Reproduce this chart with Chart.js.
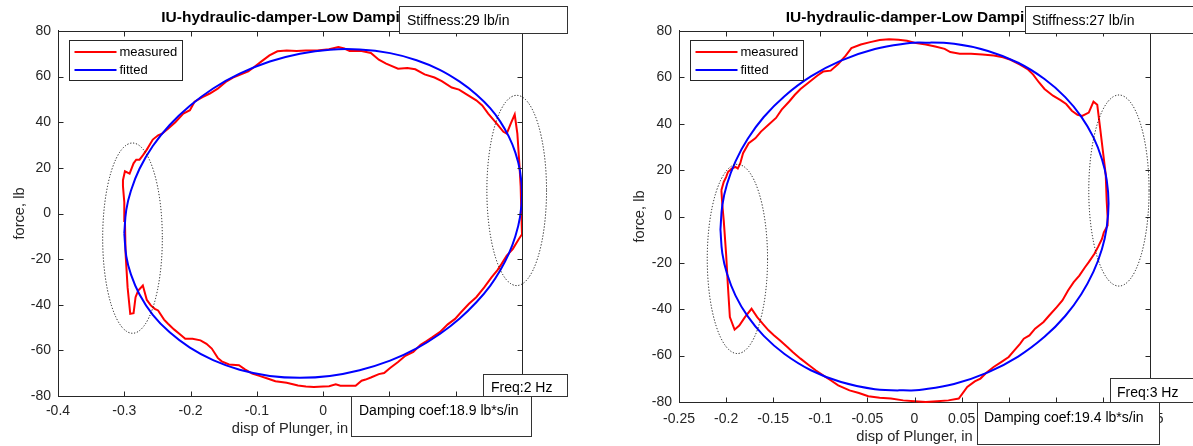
<!DOCTYPE html>
<html><head><meta charset="utf-8">
<script src="https://cdn.jsdelivr.net/npm/chart.js@4.4.1/dist/chart.umd.min.js"></script>
<style>
html,body{margin:0;padding:0;background:#fff;overflow:hidden;}
#wrap{position:relative;width:1193px;height:446px;background:#fff;}
.cv{position:absolute;top:0;}
</style></head><body>
<div id="wrap">
<canvas id="c1" class="cv" width="600" height="446" style="left:0;width:600px;height:446px"></canvas>
<canvas id="c2" class="cv" width="593" height="446" style="left:600px;width:593px;height:446px"></canvas>
</div>
<script>
// ---------- data ----------
const titleText = 'IU-hydraulic-damper-Low Damping';
const xTitle = 'disp of Plunger, in';
const yTitle = 'force, lb';
const seriesNames = ['measured', 'fitted'];

const yTickValues = [-80, -60, -40, -20, 0, 20, 40, 60, 80];
const yTickLabels = ['-80', '-60', '-40', '-20', '0', '20', '40', '60', '80'];

const leftXTickValues = [-0.4, -0.3, -0.2, -0.1, 0, 0.1, 0.2, 0.3];
const leftXTickLabels = ['-0.4', '-0.3', '-0.2', '-0.1', '0', '0.1', '0.2', '0.3'];
const rightXTickValues = [-0.25, -0.2, -0.15, -0.1, -0.05, 0, 0.05, 0.1, 0.15, 0.2, 0.25];
const rightXTickLabels = ['-0.25', '-0.2', '-0.15', '-0.1', '-0.05', '0', '0.05', '0.1', '0.15', '0.2', '0.25'];

// Left panel (2 Hz)
const leftMeasuredX = [-0.302,-0.302,-0.299,-0.292,-0.286,-0.282,-0.277,-0.272,-0.266,-0.257,-0.249,-0.243,-0.234,-0.223,-0.211,-0.201,-0.194,-0.182,-0.171,-0.159,-0.147,-0.136,-0.124,-0.113,-0.104,-0.092,-0.081,-0.069,-0.055,-0.040,-0.026,-0.009,0.009,0.023,0.032,0.040,0.058,0.072,0.084,0.095,0.113,0.127,0.139,0.153,0.168,0.179,0.194,0.205,0.217,0.231,0.240,0.249,0.260,0.272,0.277,0.283,0.289,0.293,0.296,0.298,0.299,
  0.300,0.295,0.286,0.277,0.269,0.263,0.254,0.243,0.231,0.220,0.208,0.199,0.188,0.176,0.165,0.156,0.147,0.136,0.124,0.113,0.101,0.092,0.084,0.072,0.064,0.058,0.049,0.035,0.026,0.019,0.009,0,-0.014,-0.026,-0.038,-0.055,-0.072,-0.084,-0.095,-0.107,-0.118,-0.127,-0.142,-0.153,-0.159,-0.168,-0.176,-0.185,-0.197,-0.208,-0.217,-0.225,-0.234,-0.240,-0.249,-0.254,-0.260,-0.266,-0.272,-0.279,-0.283,-0.286,-0.291,-0.295,-0.298,-0.299,-0.300,-0.302];
const leftMeasuredY = [12,14.6,18.5,17.5,22,23.6,23.6,25.5,28,32.4,34.3,35,37.2,40,43.8,45.3,49,51,52.6,54.7,57.7,59.6,61,62.3,64.2,66.9,69.3,71.1,71.5,71.2,71.4,71.5,72,73,72.3,71.2,71.2,70.4,67.4,65.7,63.5,63.8,63.2,61,59.6,58,55.2,54.3,52.1,49.6,47.4,43.8,40.1,35.8,35,39.4,43.4,35,21.9,11.7,0,
  -9.1,-11.3,-15.6,-18.5,-22.2,-24.8,-28,-32.4,-36.7,-39.6,-43.3,-46.2,-48.6,-52,-54.2,-55.9,-57.5,-60.7,-62.4,-65.1,-67.7,-69.9,-70.4,-71.9,-72.8,-73.3,-75.5,-75.5,-75.5,-74.9,-75.7,-75.8,-76,-75.8,-75.4,-74.2,-73.5,-72.3,-71.3,-70.2,-68.3,-66.5,-66.2,-64.8,-63.3,-59.2,-57.1,-55.6,-54.9,-54.9,-52.7,-50.8,-48.3,-46.5,-42.5,-41.8,-40.3,-37.9,-31.6,-33.8,-36.7,-43.7,-44,-32.4,-17.8,-3.3,5,12];
const leftFittedX = [-0.300,-0.297,-0.290,-0.277,-0.257,-0.2315,-0.201,-0.166,-0.126,-0.0805,-0.035,0.010,0.055,0.101,0.141,0.176,0.206,0.2315,0.252,0.267,0.280,0.290,0.297,0.300,
  0.297,0.290,0.280,0.267,0.252,0.2315,0.206,0.176,0.141,0.101,0.055,0.010,-0.035,-0.0805,-0.126,-0.166,-0.201,-0.2315,-0.257,-0.277,-0.290,-0.297,-0.300];
const leftFittedY = [-8.6,1.6,10.0,19.6,29.6,38.8,47.2,54.8,61.3,66.6,70.0,71.8,71.9,70.3,67.2,63.0,57.8,52.1,46.2,40.4,33.8,26.7,18.7,8.6,
  -1.6,-10.0,-17.7,-25.0,-31.7,-38.8,-46.0,-52.8,-59.1,-64.5,-68.7,-71.2,-72.0,-71.2,-68.5,-64.3,-58.8,-52.1,-44.4,-35.5,-26.7,-18.7,-8.6];

// Right panel (3 Hz)
const rightMeasuredX = [-0.205,-0.2025,-0.2,-0.198,-0.194,-0.19,-0.1876,-0.185,-0.182,-0.176,-0.169,-0.163,-0.155,-0.147,-0.141,-0.133,-0.127,-0.121,-0.113,-0.103,-0.097,-0.089,-0.081,-0.073,-0.067,-0.057,-0.047,-0.037,-0.027,-0.017,-0.008,0,0.012,0.022,0.032,0.038,0.048,0.06,0.072,0.084,0.094,0.102,0.112,0.12,0.126,0.132,0.138,0.147,0.155,0.161,0.167,0.173,0.178,0.185,0.19,0.194,0.197,0.2,0.203,0.204,0.205,
  0.205,0.201,0.199,0.195,0.191,0.185,0.181,0.175,0.169,0.163,0.157,0.151,0.143,0.137,0.128,0.122,0.116,0.112,0.106,0.1,0.092,0.084,0.076,0.07,0.064,0.056,0.047,0.036,0.024,0.012,0,-0.012,-0.025,-0.037,-0.049,-0.059,-0.069,-0.081,-0.089,-0.097,-0.105,-0.113,-0.121,-0.129,-0.135,-0.143,-0.149,-0.155,-0.161,-0.167,-0.173,-0.18,-0.186,-0.191,-0.196,-0.198,-0.2,-0.2025,-0.204,-0.205];
const rightMeasuredY = [11.3,14.9,17,19.2,20.7,21.4,20.7,22.9,27.3,31.6,33.7,36.6,39.6,42.5,46.1,49.6,52.5,55,57.6,60.8,62.5,62.9,65.8,69.4,72.6,74.2,75.2,76.1,76.4,76.2,75.8,74.9,74.2,73.3,72.3,70.9,70.2,70.2,69.9,69.4,68.7,67.6,65.5,63.6,61.2,57.9,55,52.1,50.2,48.5,45.6,43.9,43.4,44.8,49.5,48.2,38.3,28.2,18.1,6.9,-0.3,
  -3.9,-6.8,-9.7,-13,-16.1,-19.7,-21.9,-25.5,-28.3,-31.9,-36.2,-39.1,-42.7,-45.5,-48.4,-51.3,-52.7,-54.9,-57.7,-60.6,-62.8,-64.9,-67.5,-69.9,-71.1,-73.5,-78.5,-79.3,-79.7,-80,-79.7,-79.3,-78.5,-78.2,-77.5,-76.1,-75,-72.8,-70.6,-68.5,-66.3,-63.8,-61.3,-58.5,-56.3,-53.4,-51.3,-49.1,-46.3,-43.4,-39.8,-43.4,-47,-48.8,-43.4,-30.5,-16.1,-1.8,5,11.3];
const rightFittedX = [-0.206,-0.204,-0.199,-0.19,-0.177,-0.16,-0.138,-0.11,-0.078,-0.042,-0.005,0.005,0.042,0.078,0.11,0.138,0.16,0.177,0.19,0.199,0.204,0.206,
  0.204,0.199,0.19,0.177,0.16,0.138,0.11,0.078,0.042,0.005,-0.005,-0.042,-0.078,-0.11,-0.138,-0.16,-0.177,-0.19,-0.199,-0.204,-0.206];
const rightFittedY = [-5.6,4.9,14.0,23.8,33.5,42.9,51.9,60.4,67.2,72.2,74.8,75.0,74.5,71.4,66.3,59.3,51.5,43.1,34.1,24.7,15.9,5.6,
  -4.9,-14.0,-23.8,-33.5,-42.9,-51.9,-60.4,-67.2,-72.2,-74.8,-75.0,-74.5,-71.4,-66.3,-59.3,-51.5,-43.1,-34.1,-24.7,-15.9,-5.6];

// dotted ellipse annotations (data units: centre x, centre y, half-width, half-height)
const leftEllipses = [[-0.2876, -10.8, 0.0450, 41.7], [0.292, 10.1, 0.0450, 41.7]];
const rightEllipses = [[-0.188, -18.3, 0.032, 40.8], [0.217, 11.2, 0.032, 41.2]];

// text annotations
const leftNotes = ['Stiffness:29 lb/in', 'Damping coef:18.9 lb*s/in', 'Freq:2 Hz'];
const rightNotes = ['Stiffness:27 lb/in', 'Damping coef:19.4 lb*s/in', 'Freq:3 Hz'];

// ---------- rendering ----------
const FONT = "'Liberation Sans', Arial, Helvetica, sans-serif";
const AXC = '#262626';

function pts(xs, ys) {
  const n = Math.min(xs.length, ys.length), out = [];
  for (let i = 0; i < n; i++) out.push({x: xs[i], y: ys[i]});
  return out;
}

const matlabPlugin = {
  id: 'matlab',
  afterDatasetsDraw(chart, args, o) {
    const {ctx, chartArea: a, scales: {x, y}} = chart;
    ctx.save();
    const L = Math.round(a.left) + 0.5, R = Math.round(a.right) + 0.5;
    const T = Math.round(a.top) + 0.5, B = Math.round(a.bottom) + 0.5;
    ctx.strokeStyle = AXC; ctx.lineWidth = 1;
    ctx.beginPath();
    ctx.moveTo(L, T); ctx.lineTo(R, T); ctx.lineTo(R, B);
    for (const t of x.ticks) {
      const px = Math.round(x.getPixelForValue(t.value)) + 0.5;
      ctx.moveTo(px, B); ctx.lineTo(px, B - 5);
      ctx.moveTo(px, T); ctx.lineTo(px, T + 5);
    }
    for (const t of y.ticks) {
      const py = Math.round(y.getPixelForValue(t.value)) + 0.5;
      ctx.moveTo(L, py); ctx.lineTo(L + 5, py);
      ctx.moveTo(R, py); ctx.lineTo(R - 5, py);
    }
    ctx.stroke();
    ctx.restore();
  },
  afterDraw(chart, args, o) {
    const {ctx, chartArea: a, scales: {x, y}} = chart;
    ctx.save();
    // dotted ellipses
    ctx.strokeStyle = '#111'; ctx.lineWidth = 1; ctx.setLineDash([1.2, 1.8]);
    for (const e of o.ellipses) {
      const cx = x.getPixelForValue(e[0]), cy = y.getPixelForValue(e[1]);
      const rx = Math.abs(x.getPixelForValue(e[0] + e[2]) - cx);
      const ry = Math.abs(y.getPixelForValue(e[1] + e[3]) - cy);
      ctx.beginPath(); ctx.ellipse(cx, cy, rx, ry, 0, 0, Math.PI * 2); ctx.stroke();
    }
    ctx.setLineDash([]);
    // legend
    const lx = Math.round(a.left + 11) + 0.5, ly = Math.round(a.top + 9) + 0.5;
    ctx.fillStyle = '#fff'; ctx.fillRect(lx, ly, 113, 40);
    ctx.strokeStyle = AXC; ctx.lineWidth = 1; ctx.strokeRect(lx, ly, 113, 40);
    ctx.font = '13px ' + FONT; ctx.textBaseline = 'middle'; ctx.textAlign = 'left';
    chart.data.datasets.forEach((ds, i) => {
      const ry = ly + 11.5 + i * 18;
      ctx.strokeStyle = ds.borderColor; ctx.lineWidth = 2;
      ctx.beginPath(); ctx.moveTo(lx + 5, ry); ctx.lineTo(lx + 47, ry); ctx.stroke();
      ctx.fillStyle = '#000'; ctx.fillText(ds.label, lx + 50, ry + 0.5);
    });
    // text boxes
    ctx.font = '14px ' + FONT; ctx.textBaseline = 'alphabetic';
    for (const b of o.boxes) {
      ctx.fillStyle = '#fff';
      ctx.fillRect(b.x1, b.y1, b.x2 - b.x1, b.y2 - b.y1);
      ctx.strokeStyle = '#333'; ctx.lineWidth = 1;
      ctx.strokeRect(b.x1 + 0.5, b.y1 + 0.5, b.x2 - b.x1, b.y2 - b.y1);
      ctx.fillStyle = '#000';
      ctx.fillText(b.text, b.tx, b.ty);
    }
    ctx.restore();
  }
};

function makeChart(id, cfg) {
  const W = cfg.W, H = 446;
  return new Chart(document.getElementById(id), {
    type: 'scatter',
    data: {
      datasets: [
        {label: seriesNames[0], data: pts(cfg.mx, cfg.my), showLine: true, borderColor: '#ff0000', borderWidth: 2, pointRadius: 0, tension: 0, order: 2, clip: 2},
        {label: seriesNames[1], data: pts(cfg.fx, cfg.fy), showLine: true, borderColor: '#0000ff', borderWidth: 2, pointRadius: 0, tension: 0.4, order: 1, clip: 2}
      ]
    },
    options: {
      responsive: false, animation: false, devicePixelRatio: 1, events: [],
      layout: {padding: {left: 0, top: 0, right: W - cfg.right, bottom: 0}},
      plugins: {
        legend: {display: false}, tooltip: {enabled: false},
        title: {display: true, text: titleText, fullSize: false, color: '#000',
          font: {family: FONT, size: 15.5, weight: 'bold', lineHeight: 1.2},
          padding: {top: 8.4, bottom: cfg.top - 18.6 - 8.4}},
        matlab: {ellipses: cfg.ellipses, boxes: cfg.boxes}
      },
      scales: {
        x: {
          type: 'linear', position: 'bottom', min: cfg.xt[0], max: cfg.xt[cfg.xt.length - 1],
          afterBuildTicks: s => { s.ticks = cfg.xt.map(v => ({value: v})); },
          afterFit: s => { s.height = H - cfg.bottom; },
          ticks: {autoSkip: false, maxRotation: 0, padding: cfg.xtp, color: AXC,
            font: {family: FONT, size: 14}, callback: (v, i) => cfg.xl[i]},
          grid: {display: false, drawTicks: false},
          border: {display: true, color: AXC, width: 1},
          title: {display: true, text: xTitle, color: AXC, font: {family: FONT, size: 14.67},
            padding: {top: 0, bottom: cfg.xtb}}
        },
        y: {
          type: 'linear', position: 'left', min: -80, max: 80,
          afterBuildTicks: s => { s.ticks = yTickValues.map(v => ({value: v})); },
          afterFit: s => { s.width = cfg.left; },
          ticks: {autoSkip: false, padding: 7, color: AXC, font: {family: FONT, size: 14},
            callback: (v, i) => yTickLabels[i]},
          grid: {display: false, drawTicks: false},
          border: {display: true, color: AXC, width: 1},
          title: {display: true, text: yTitle, color: AXC, font: {family: FONT, size: 14.67},
            padding: {top: cfg.ytp, bottom: 0}}
        }
      }
    },
    plugins: [matlabPlugin]
  });
}

makeChart('c1', {
  W: 600, left: 58, right: 522, top: 31, bottom: 396,
  xt: leftXTickValues, xl: leftXTickLabels, xtp: 7, xtb: 8, ytp: 11.2,
  mx: leftMeasuredX, my: leftMeasuredY, fx: leftFittedX, fy: leftFittedY,
  ellipses: leftEllipses,
  boxes: [
    {x1: 399, y1: 6, x2: 567, y2: 33, text: leftNotes[0], tx: 407, ty: 25},
    {x1: 483, y1: 374, x2: 567, y2: 396, text: leftNotes[2], tx: 491, ty: 392},
    {x1: 351, y1: 396, x2: 531, y2: 436, text: leftNotes[1], tx: 359, ty: 415}
  ]
});

makeChart('c2', {
  W: 593, left: 79, right: 550, top: 31, bottom: 402,
  xt: rightXTickValues, xl: rightXTickLabels, xtp: 8.6, xtb: 0, ytp: 31.2,
  mx: rightMeasuredX, my: rightMeasuredY, fx: rightFittedX, fy: rightFittedY,
  ellipses: rightEllipses,
  boxes: [
    {x1: 425, y1: 6, x2: 600, y2: 33, text: rightNotes[0], tx: 432, ty: 25},
    {x1: 510, y1: 378, x2: 600, y2: 402, text: rightNotes[2], tx: 517, ty: 397},
    {x1: 377, y1: 402, x2: 559, y2: 444, text: rightNotes[1], tx: 384, ty: 422}
  ]
});
</script>
</body></html>
